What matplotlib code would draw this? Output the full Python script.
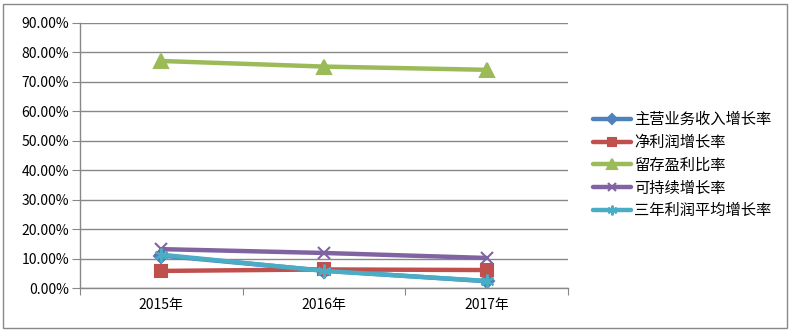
import matplotlib
matplotlib.use("Agg")
import matplotlib.pyplot as plt
from matplotlib.patches import Rectangle
from matplotlib.ticker import FuncFormatter, FixedLocator, NullFormatter

plt.rcParams['font.family'] = ['Noto Sans CJK SC', 'DejaVu Sans']

# ---- data -------------------------------------------------------------------
years = ["2015年", "2016年", "2017年"]
revenue_growth = [11.0, 5.9, 2.3]      # 主营业务收入增长率
profit_growth = [5.8, 6.3, 6.1]        # 净利润增长率
retention_ratio = [77.1, 75.2, 74.1]   # 留存盈利比率
sustainable_growth = [13.2, 11.9, 10.2]  # 可持续增长率
profit_3yr_avg = [11.3, 5.8, 2.4]      # 三年利润平均增长率

series = [
    ("主营业务收入增长率", revenue_growth, "#4F81BD", "D", 7),
    ("净利润增长率", profit_growth, "#C0504D", "s", 9),
    ("留存盈利比率", retention_ratio, "#9BBB59", "^", 10),
    ("可持续增长率", sustainable_growth, "#8064A2", "x", 9),
    ("三年利润平均增长率", profit_3yr_avg, "#4BACC6", (6, 2, 0), 10),
]

fig = plt.figure(figsize=(7.91, 3.32), dpi=100)
ax = fig.add_axes([80 / 791, 1 - 288 / 332, (568 - 80) / 791, (288 - 23) / 332])

x = range(len(years))
for label, vals, color, marker, ms in series:
    ax.plot(x, vals, color=color, lw=3.2, marker=marker, markersize=ms,
            markeredgecolor=color, markerfacecolor=color, markeredgewidth=1.5,
            label=label, solid_capstyle="round")

ax.set_xlim(-0.5, 2.5)
ax.set_ylim(0, 90)
ax.set_yticks(range(0, 91, 10))
ax.yaxis.set_major_formatter(FuncFormatter(lambda v, _: f"{v:.2f}%"))
ax.grid(axis="y", color="#888888", lw=1)
ax.set_axisbelow(True)

# category boundaries carry the tick marks, labels sit at the centres
ax.xaxis.set_major_locator(FixedLocator([-0.5, 0.5, 1.5, 2.5]))
ax.xaxis.set_major_formatter(NullFormatter())
ax.xaxis.set_minor_locator(FixedLocator(list(x)))
ax.set_xticklabels(years, minor=True)
ax.tick_params(axis="x", which="minor", length=0, pad=7, labelsize=10)
ax.tick_params(axis="x", which="major", length=5, color="#888888", direction="out")
ax.tick_params(axis="y", length=6, color="#888888", labelsize=10, pad=2)

for side in ["top", "right"]:
    ax.spines[side].set_visible(False)
for side in ["left", "bottom"]:
    ax.spines[side].set_color("#888888")
    ax.spines[side].set_linewidth(1)

leg = fig.legend(loc="upper left", bbox_to_anchor=(587 / 791, 1 - 105 / 332),
                 frameon=False, fontsize=11, handlelength=2.5, handletextpad=0.2,
                 labelspacing=0.38, borderaxespad=0)
for h in leg.get_lines():
    h.set_markersize(h.get_markersize() * 0.7)

fig.patches.append(Rectangle((3 / 791, 4 / 332), 784 / 791, 324 / 332,
                             transform=fig.transFigure, fill=False,
                             edgecolor="#888888", lw=1))

fig.savefig("out.png", dpi=100)
